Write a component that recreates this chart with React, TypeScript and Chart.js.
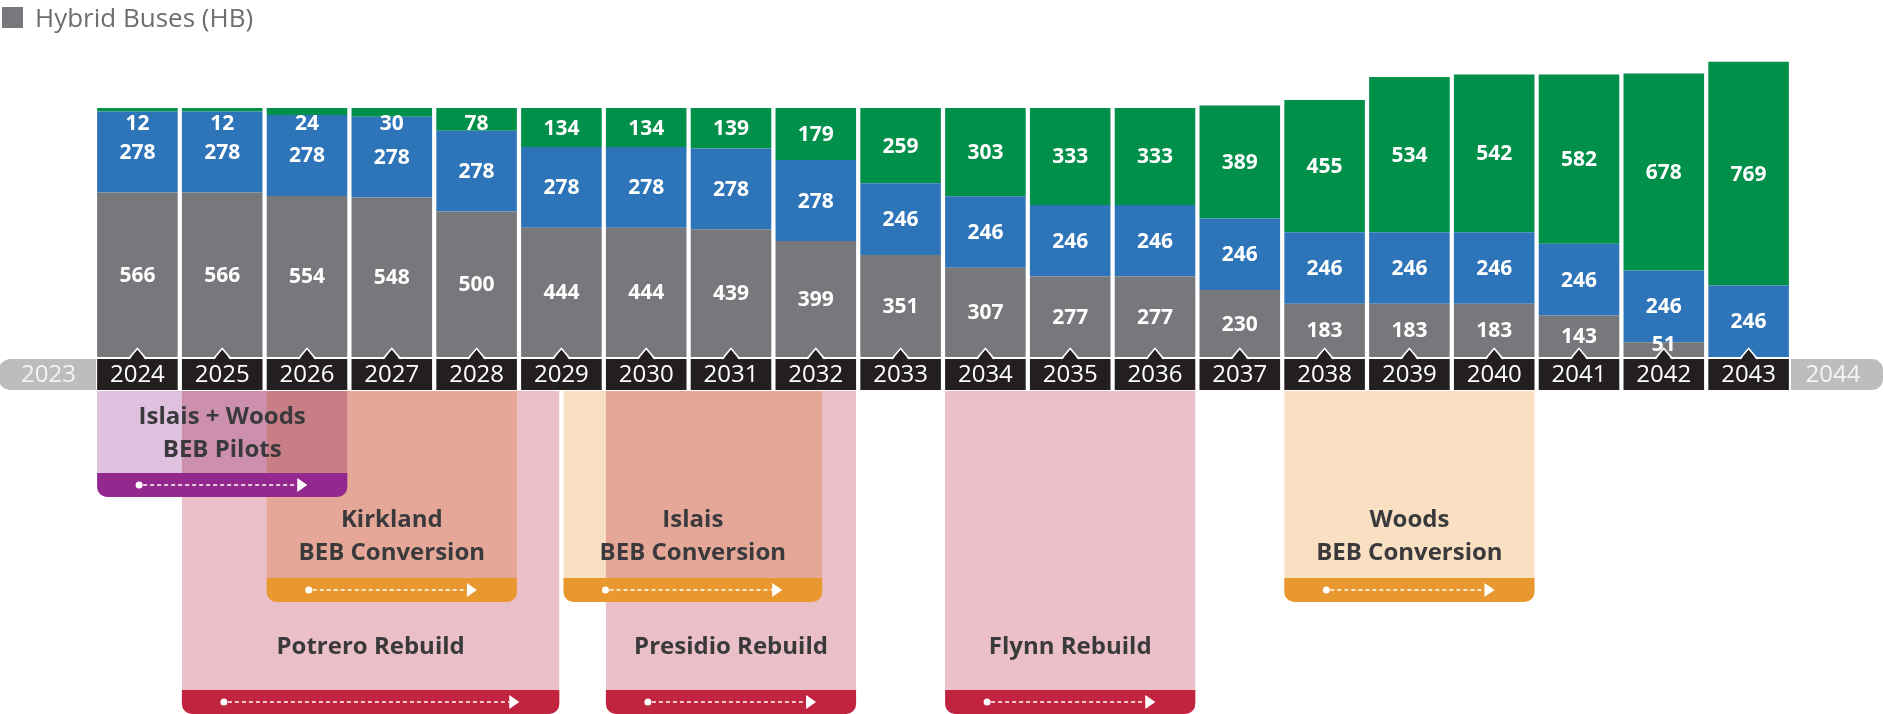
import React, { useEffect, useRef } from "react";
import { Chart, registerables } from "chart.js";

Chart.register(...registerables);

// ---------- data ----------
const years = [
  "2024", "2025", "2026", "2027", "2028", "2029", "2030", "2031", "2032", "2033",
  "2034", "2035", "2036", "2037", "2038", "2039", "2040", "2041", "2042", "2043",
];
const edgeYearBefore = "2023";
const edgeYearAfter = "2044";

const hybridBuses = [566, 566, 554, 548, 500, 444, 444, 439, 399, 351, 307, 277, 277, 230, 183, 183, 183, 143, 51, 0];
const trolleyBuses = [278, 278, 278, 278, 278, 278, 278, 278, 278, 246, 246, 246, 246, 246, 246, 246, 246, 246, 246, 246];
const batteryElectricBuses = [12, 12, 24, 30, 78, 134, 134, 139, 179, 259, 303, 333, 333, 389, 455, 534, 542, 582, 678, 769];

const seriesNames = ["Hybrid Buses (HB)", "Trolley Buses (TB)", "Battery Electric Buses (BEB)"];

const projectNames = [
  ["Potrero Rebuild"],
  ["Presidio Rebuild"],
  ["Flynn Rebuild"],
  ["Kirkland", "BEB Conversion"],
  ["Islais", "BEB Conversion"],
  ["Woods", "BEB Conversion"],
  ["Islais + Woods", "BEB Pilots"],
];
const projectStart = [2025, 2030, 2034, 2026, 2029.5, 2038, 2024];
const projectEnd = [2029.5, 2033, 2037, 2029, 2032.6, 2041, 2027];
const projectKind = ["rebuild", "rebuild", "rebuild", "conversion", "conversion", "conversion", "pilot"];

// ---------- styles ----------
const FONT = "'Open Sans', 'Noto Sans', sans-serif";
const COLORS = { hybrid: "#77787b", trolley: "#2e74b9", beb: "#00904a" };
const KIND_STYLE: Record<string, any> = {
  pilot: { fill: "#dfc0df", band: "#93288e", bottom: 497, lines: [417, 450] },
  conversion: { fill: "#fae0c3", band: "#e9982f", bottom: 602, lines: [520, 553] },
  rebuild: { fill: "#eabfc7", band: "#c0243f", bottom: 714, lines: [647] },
};

const overlayPlugin = {
  id: "overlay",
  afterDatasetsDraw(chart: any) {
    const ctx: CanvasRenderingContext2D = chart.ctx;
    const xs = chart.scales.x;
    const ys = chart.scales.y;
    const c0 = xs.getPixelForValue(0);
    const slot = xs.getPixelForValue(1) - c0;
    const barW = chart.getDatasetMeta(0).data[0].width;
    const half = barW / 2;
    const gap = slot - barW;
    const baseY = ys.getPixelForValue(0);
    const W = chart.width;

    ctx.save();
    // ---- segment labels ----
    ctx.fillStyle = "#ffffff";
    ctx.font = `bold 21px ${FONT}`;
    ctx.textAlign = "center";
    ctx.textBaseline = "middle";
    const nd = chart.data.datasets.length;
    for (let d = 0; d < nd; d++) {
      const meta = chart.getDatasetMeta(d);
      const vals = chart.data.datasets[d].data;
      meta.data.forEach((el: any, i: number) => {
        const v = vals[i];
        if (!v) return;
        const top = Math.min(el.y, el.base);
        const bot = Math.max(el.y, el.base);
        let cy = (top + bot) / 2;
        if (d === nd - 1) cy = Math.max(cy, top + 15);
        if (d === 0) cy = Math.min(cy, bot - 13);
        ctx.fillText(String(v), el.x, cy + 1);
      });
    }

    // ---- timeline ----
    const rowTop = baseY + 2;
    const rowBot = baseY + 33;
    const firstLeft = c0 - half;
    const lastRight = xs.getPixelForValue(years.length - 1) + half;
    ctx.fillStyle = "#bdbdbd";
    ctx.beginPath();
    ctx.roundRect(-2, rowTop, firstLeft - 1 + 2, rowBot - rowTop, [13, 0, 0, 13]);
    ctx.fill();
    ctx.beginPath();
    ctx.roundRect(lastRight + 2, rowTop, W - lastRight - 2, rowBot - rowTop, [0, 11, 11, 0]);
    ctx.fill();
    ctx.font = `24px ${FONT}`;
    ctx.fillStyle = "#f4f4f4";
    ctx.fillText(edgeYearBefore, firstLeft / 2, (rowTop + rowBot) / 2 + 1);
    ctx.fillText(edgeYearAfter, (lastRight + W) / 2 - 3, (rowTop + rowBot) / 2 + 1);

    years.forEach((y, i) => {
      const cx = xs.getPixelForValue(i);
      ctx.fillStyle = "#231f20";
      ctx.fillRect(cx - half, rowTop, barW, rowBot - rowTop);
      ctx.beginPath();
      ctx.moveTo(cx - 8, rowTop + 1);
      ctx.lineTo(cx, rowTop - 10);
      ctx.lineTo(cx + 8, rowTop + 1);
      ctx.closePath();
      ctx.fill();
      ctx.strokeStyle = "#ffffff";
      ctx.lineWidth = 1.5;
      ctx.beginPath();
      ctx.moveTo(cx - 9, rowTop);
      ctx.lineTo(cx, rowTop - 10.5);
      ctx.lineTo(cx + 9, rowTop);
      ctx.stroke();
      ctx.fillStyle = "#ffffff";
      ctx.fillText(y, cx, (rowTop + rowBot) / 2 + 1);
    });

    // ---- project boxes ----
    const x0 = firstLeft;
    const xAt = (t: number) => x0 + (t - Number(years[0])) * slot;
    const boxTop = rowBot + 1;
    const order = ["rebuild", "conversion", "pilot"];
    const boxes = projectNames.map((n, i) => {
      const st = KIND_STYLE[projectKind[i]];
      return {
        names: n,
        left: xAt(projectStart[i]),
        right: xAt(projectEnd[i]) - gap,
        kind: projectKind[i],
        st,
      };
    });
    ctx.globalCompositeOperation = "multiply";
    order.forEach((k) => {
      boxes.filter((b) => b.kind === k).forEach((b) => {
        ctx.fillStyle = b.st.fill;
        ctx.beginPath();
        ctx.roundRect(b.left, boxTop, b.right - b.left, b.st.bottom - boxTop, [0, 0, 10, 10]);
        ctx.fill();
      });
    });
    ctx.globalCompositeOperation = "source-over";
    const bandH = 24;
    order.forEach((k) => {
      boxes.filter((b) => b.kind === k).forEach((b) => {
        const bt = b.st.bottom - bandH;
        ctx.fillStyle = b.st.band;
        ctx.beginPath();
        ctx.roundRect(b.left, bt, b.right - b.left, bandH, [0, 0, 10, 10]);
        ctx.fill();
        // dotted arrow
        const cy = bt + bandH / 2;
        const xs0 = b.left + 42;
        const tip = b.right - 40;
        ctx.fillStyle = "#ffffff";
        ctx.beginPath();
        ctx.arc(xs0, cy, 3.5, 0, Math.PI * 2);
        ctx.fill();
        ctx.strokeStyle = "#ffffff";
        ctx.lineWidth = 1.5;
        ctx.setLineDash([4, 3]);
        ctx.beginPath();
        ctx.moveTo(xs0 + 4, cy);
        ctx.lineTo(tip - 10, cy);
        ctx.stroke();
        ctx.setLineDash([]);
        ctx.beginPath();
        ctx.moveTo(tip - 10, cy - 7);
        ctx.lineTo(tip, cy);
        ctx.lineTo(tip - 10, cy + 7);
        ctx.closePath();
        ctx.fill();
      });
    });
    ctx.fillStyle = "#3a3a3c";
    ctx.font = `bold 24px ${FONT}`;
    boxes.forEach((b) => {
      const cx = (b.left + b.right) / 2;
      b.names.forEach((line: string, j: number) => {
        ctx.fillText(line, cx, b.st.lines[j]);
      });
    });

    // ---- legend (visible item) ----
    ctx.fillStyle = COLORS.hybrid;
    ctx.fillRect(2, 7, 21, 21);
    ctx.fillStyle = "#6d6e71";
    ctx.font = `26px ${FONT}`;
    ctx.textAlign = "left";
    ctx.textBaseline = "alphabetic";
    ctx.fillText(seriesNames[0], 35, 27);
    ctx.restore();
  },
};

export default function App() {
  const ref = useRef<HTMLCanvasElement | null>(null);
  useEffect(() => {
    if (!ref.current) return;
    const chart = new Chart(ref.current, {
      type: "bar",
      data: {
        labels: years,
        datasets: [
          { label: seriesNames[0], data: hybridBuses, backgroundColor: COLORS.hybrid },
          { label: seriesNames[1], data: trolleyBuses, backgroundColor: COLORS.trolley },
          { label: seriesNames[2], data: batteryElectricBuses, backgroundColor: COLORS.beb },
        ],
      },
      options: {
        responsive: false,
        devicePixelRatio: 1,
        animation: false,
        layout: { padding: { left: 95, right: 92, top: 8, bottom: 357 } },
        datasets: { bar: { categoryPercentage: 1, barPercentage: 0.95, borderWidth: 0 } },
        scales: {
          x: { stacked: true, display: false },
          y: { stacked: true, display: false, min: 0, max: 1200 },
        },
        plugins: { legend: { display: false }, tooltip: { enabled: false } },
      },
      plugins: [overlayPlugin],
    });
    return () => chart.destroy();
  }, []);
  return (
    <div style={{ position: "fixed", left: 0, top: 0, width: 1883, height: 714, background: "#ffffff" }}>
      <canvas ref={ref} width={1883} height={714} style={{ width: 1883, height: 714, display: "block" }} />
    </div>
  );
}
